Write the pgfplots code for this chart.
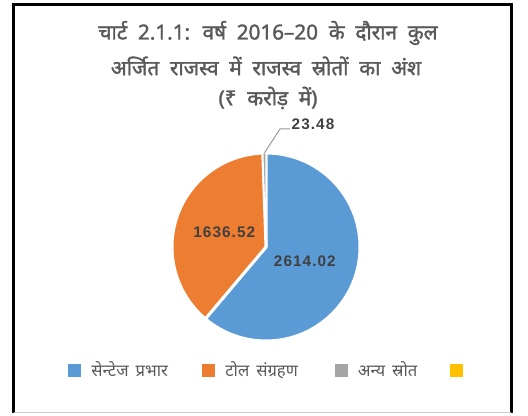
\documentclass[border=0pt]{standalone}
\usepackage{pgfplots}
\pgfplotsset{compat=1.18}
\usepackage{pgfplotstable}
\usepackage{fontspec}
\setmainfont[Script=Devanagari, AutoFakeBold=1.6, WordSpace=2]{Noto Sans}
\newfontfamily\legfont[Script=Devanagari, WordSpace=1.6]{Noto Sans}
\newfontfamily\numfont[LetterSpace=7]{Liberation Sans}
\definecolor{cBlue}{RGB}{91,155,213}
\definecolor{cOrange}{RGB}{237,125,49}
\definecolor{cGray}{RGB}{165,165,165}
\definecolor{cYellow}{RGB}{255,192,0}
\definecolor{txtgray}{RGB}{89,89,89}
\definecolor{lblgray}{RGB}{64,64,64}

% revenue shares, crore rupees
\pgfplotstableread{
src value
sentage 2614.02
toll 1636.52
other 23.48
blank 0
}\piedata

\begin{document}
\begin{tikzpicture}
% slice angles from the data, clockwise from 12 o'clock
\pgfplotstablegetelem{0}{value}\of\piedata \let\va\pgfplotsretval
\pgfplotstablegetelem{1}{value}\of\piedata \let\vb\pgfplotsretval
\pgfplotstablegetelem{2}{value}\of\piedata \let\vc\pgfplotsretval
\pgfplotstablegetelem{3}{value}\of\piedata \let\vd\pgfplotsretval
\pgfmathsetmacro\tot{(\va+\vb+\vc+\vd)/100}
\pgfmathsetmacro\aA{90}
\pgfmathsetmacro\aB{\aA-3.6*(\va/\tot)}
\pgfmathsetmacro\aC{\aB-3.6*(\vb/\tot)}
\pgfmathsetmacro\aD{\aC-3.6*(\vc/\tot)}
\pgfmathsetmacro\mA{(\aA+\aB)/2}
\pgfmathsetmacro\mB{(\aB+\aC)/2}
\pgfmathsetmacro\mC{(\aC+\aD)/2}
\def\cx{266}\def\cy{169}\def\R{94}
\pgfmathsetmacro\xA{\cx+\R*cos(\aA)}\pgfmathsetmacro\yA{\cy+\R*sin(\aA)}
\pgfmathsetmacro\xB{\cx+\R*cos(\aB)}\pgfmathsetmacro\yB{\cy+\R*sin(\aB)}
\pgfmathsetmacro\xC{\cx+\R*cos(\aC)}\pgfmathsetmacro\yC{\cy+\R*sin(\aC)}
\pgfmathsetmacro\lxA{\cx+0.44*\R*cos(\mA)}\pgfmathsetmacro\lyA{\cy+0.44*\R*sin(\mA)}
\pgfmathsetmacro\lxB{\cx+0.47*\R*cos(\mB)}\pgfmathsetmacro\lyB{\cy+0.47*\R*sin(\mB)}
\pgfmathsetmacro\exC{\cx+\R*cos(\mC)}\pgfmathsetmacro\eyC{\cy+\R*sin(\mC)}
\begin{axis}[
  name=ax,
  width=396pt, height=312pt, scale only axis,
  xmin=0, xmax=528, ymin=0, ymax=416,
  hide axis, clip=false,
  legend columns=4,
  legend cell align=left,
  legend style={at={(axis cs:64,46)}, anchor=west, draw=none, fill=none,
    font=\legfont\fontsize{12.5}{14}\selectfont\color{txtgray},
    /tikz/every odd column/.append style={column sep=6pt},
    /tikz/every even column/.append style={column sep=15pt}},
  legend image code/.code={\fill[#1] (0pt,-4.5pt) rectangle (9pt,4.5pt);},
]
  % frame
  \draw[black, line width=2.25pt] (axis cs:13.5,3) -- (axis cs:13.5,411);
  \draw[black, line width=2.25pt] (axis cs:511,3) -- (axis cs:511,411);
  \draw[black, line width=2.25pt] (axis cs:12,411) -- (axis cs:512.5,411);
  \draw[gray!40, line width=0.75pt] (axis cs:13.5,3) -- (axis cs:511,3);

  % wedges
  \fill[cBlue, draw=white, line width=2.25pt, line join=round]
    (axis cs:\cx,\cy) -- (axis cs:\xA,\yA) arc[start angle=\aA, end angle=\aB, radius=70.5pt] -- cycle;
  \fill[cOrange, draw=white, line width=2.25pt, line join=round]
    (axis cs:\cx,\cy) -- (axis cs:\xB,\yB) arc[start angle=\aB, end angle=\aC, radius=70.5pt] -- cycle;
  \fill[cGray, draw=white, line width=1pt]
    (axis cs:\cx,\cy) -- (axis cs:\xC,\yC) arc[start angle=\aC, end angle=\aD, radius=70.5pt] -- cycle;

  % data labels
  \node[font=\numfont\bfseries\fontsize{11.5}{12}\selectfont, text=lblgray] at (axis cs:\lxA,\lyA) {2614.02};
  \node[font=\numfont\bfseries\fontsize{11.5}{12}\selectfont, text=lblgray] at (axis cs:\lxB,\lyB) {1636.52};
  \draw[gray!80, line width=0.75pt] (axis cs:\exC,\eyC) -- (axis cs:280,287) -- (axis cs:290,287);
  \node[font=\numfont\bfseries\fontsize{11.5}{12}\selectfont, text=lblgray, anchor=west] at (axis cs:287,292) {23.48};

  % title
  \node[font=\bfseries\fontsize{15.5}{17}\selectfont, text=txtgray] at (axis cs:268,383) {चार्ट 2.1.1: वर्ष 2016–20 के दौरान कुल};
  \node[font=\bfseries\fontsize{15.5}{17}\selectfont, text=txtgray] at (axis cs:266,350) {अर्जित राजस्व में राजस्व स्रोतों का अंश};
  \node[font=\bfseries\fontsize{15.5}{17}\selectfont, text=txtgray] at (axis cs:268,318) {(₹ करोड़ में)};

  \addlegendimage{cBlue}
  \addlegendentry{\makebox[66pt][l]{सेन्टेज प्रभार}}
  \addlegendimage{cOrange}
  \addlegendentry{\makebox[65pt][l]{टोल संग्रहण}}
  \addlegendimage{cGray}
  \addlegendentry{\makebox[52pt][l]{अन्य स्रोत}}
  \addlegendimage{cYellow}
  \addlegendentry{}
\end{axis}
\pgfresetboundingbox
\path (ax.south west) rectangle (ax.north east);
\end{tikzpicture}
\end{document}
